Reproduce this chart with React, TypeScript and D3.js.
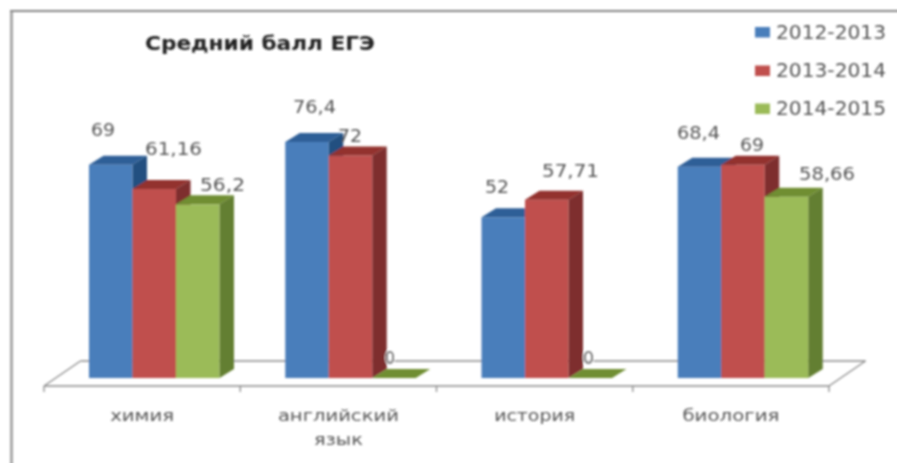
import React from "react";
import * as d3 from "d3";

const categories = ["химия", "английский язык", "история", "биология"];
const seriesNames = ["2012-2013", "2013-2014", "2014-2015"];
const values2012 = [69, 76.4, 52, 68.4];
const values2013 = [61.16, 72, 57.71, 69];
const values2014 = [56.2, 0, 0, 58.66];
const labels2012 = ["69", "76,4", "52", "68,4"];
const labels2013 = ["61,16", "72", "57,71", "69"];
const labels2014 = ["56,2", "0", "0", "58,66"];
const title = "Средний балл ЕГЭ";

const front = ["#4a7ebb", "#c0504d", "#9bbb59"];
const top = ["#2f5f97", "#93312e", "#6f8e33"];
const side = ["#234f80", "#7e2e2e", "#637f30"];

const W = 897, H = 463;
const axisY = 386, baseY = 378;
const floorDx = 36.5, floorDy = 25;
const depthX = 14.5, depthY = 9;
const barW = 43.5, groupInset = 45;
const text = "#555";
const font = "'DejaVu Sans', sans-serif";

const x0 = d3.scaleBand<string>().domain(categories).range([44, 829]);
const y = d3.scaleLinear().domain([0, 100]).range([baseY, baseY - 309]);
const seriesIdx = d3.scaleLinear().domain([0, 1]).range([0, barW]);

const allValues = [values2012, values2013, values2014];
const allLabels = [labels2012, labels2013, labels2014];

const labelCenters = [
  [[103, 136], [173.5, 155], [222.5, 191]],
  [[314.5, 113], [350, 142], [390, 364]],
  [[497, 193], [570.5, 177], [588.5, 364]],
  [[698.5, 139], [752, 151], [827, 180]],
];
const labelWidths = [
  [24, 57, 45],
  [43, 24, 10],
  [24, 57, 11],
  [43, 24, 56],
];

function L(props: { x: number; y: number; w: number; size: number; anchor?: string; bold?: boolean; halo?: boolean; children: string }) {
  const { x, y: yy, w, size, anchor = "middle", bold, halo, children } = props;
  return (
    <text
      x={x}
      y={yy}
      fontFamily={font}
      fontSize={size}
      fontWeight={bold ? 700 : 400}
      fill={bold ? "#222" : halo ? "#333" : text}
      stroke={halo ? "#fff" : "none"}
      strokeWidth={halo ? 2 : 0}
      paintOrder="stroke"
      textAnchor={anchor}
      textLength={w}
      lengthAdjust="spacingAndGlyphs"
    >
      {children}
    </text>
  );
}

function Bar({ x, value, s }: { x: number; value: number; s: number }) {
  const yt = y(value);
  const w = barW;
  const path = (pts: [number, number][]) => d3.line()(pts) + "Z";
  return (
    <g>
      {value > 0 && (
        <rect x={x} y={yt} width={w} height={baseY - yt} fill={front[s]} />
      )}
      <path
        d={path([
          [x, yt],
          [x + depthX, yt - depthY],
          [x + w + depthX, yt - depthY],
          [x + w, yt],
        ])}
        fill={top[s]}
      />
      {value > 0 && (
        <path
          d={path([
            [x + w, yt],
            [x + w + depthX, yt - depthY],
            [x + w + depthX, baseY - depthY],
            [x + w, baseY],
          ])}
          fill={side[s]}
        />
      )}
    </g>
  );
}

export default function App() {
  const [xs, xe] = x0.range();
  const ticks = [...categories.map((c) => x0(c)!), xe];
  const catLines = categories.map((c) => c.split(" "));
  const catWidths = [[64], [121, 49], [81], [97]];
  const legendYs = [27, 65.5, 103.5];
  const legendBase = [39, 77, 115];
  return (
    <svg
      width={W}
      height={H}
      viewBox={`0 0 ${W} ${H}`}
      style={{ position: "absolute", left: 0, top: 0, background: "#fff" }}
    >
      <defs>
        <filter id="soft" x="-2%" y="-2%" width="104%" height="104%">
          <feGaussianBlur stdDeviation="0.8" />
        </filter>
      </defs>
      <g filter="url(#soft)">
        <line x1={11.5} y1={10} x2={11.5} y2={H + 10} stroke="#a8a8a8" strokeWidth={3} />
        <line x1={10} y1={11} x2={W + 10} y2={11} stroke="#858585" strokeWidth={2} />

        <g stroke="#8a8a8a" strokeWidth={1.3} fill="none">
          <line x1={xs} y1={axisY} x2={xe} y2={axisY} />
          <line x1={xs + floorDx} y1={axisY - floorDy} x2={xe + floorDx} y2={axisY - floorDy} />
          <line x1={xs} y1={axisY} x2={xs + floorDx} y2={axisY - floorDy} />
          <line x1={xe} y1={axisY} x2={xe + floorDx} y2={axisY - floorDy} />
          {ticks.map((t, i) => (
            <line key={i} x1={t} y1={axisY} x2={t} y2={axisY + 6} />
          ))}
        </g>

        {categories.map((c, g) =>
          allValues.map((vals, s) => (
            <Bar
              key={c + s}
              x={x0(c)! + groupInset + seriesIdx(s)}
              value={vals[g]}
              s={s}
            />
          ))
        )}

        {categories.map((c, g) =>
          allLabels.map((labs, s) => (
            <L
              key={c + "l" + s}
              x={labelCenters[g][s][0]}
              y={labelCenters[g][s][1]}
              w={labelWidths[g][s]}
              size={18}
              halo={allValues[s][g] === 0}
            >
              {labs[g]}
            </L>
          ))
        )}

        {catLines.map((lines, g) =>
          lines.map((ln, i) => (
            <L
              key={ln}
              x={x0(categories[g])! + x0.bandwidth() / 2}
              y={421 + i * 24}
              w={catWidths[g][i]}
              size={16.5}
            >
              {ln}
            </L>
          ))
        )}

        <L x={145} y={50} w={230} size={20} anchor="start" bold>
          {title}
        </L>

        {seriesNames.map((n, i) => (
          <g key={n}>
            <rect x={755} y={legendYs[i]} width={15} height={10.5} fill={front[i]} />
            <L x={776} y={legendBase[i]} w={110} size={19} anchor="start">
              {n}
            </L>
          </g>
        ))}
      </g>
    </svg>
  );
}
